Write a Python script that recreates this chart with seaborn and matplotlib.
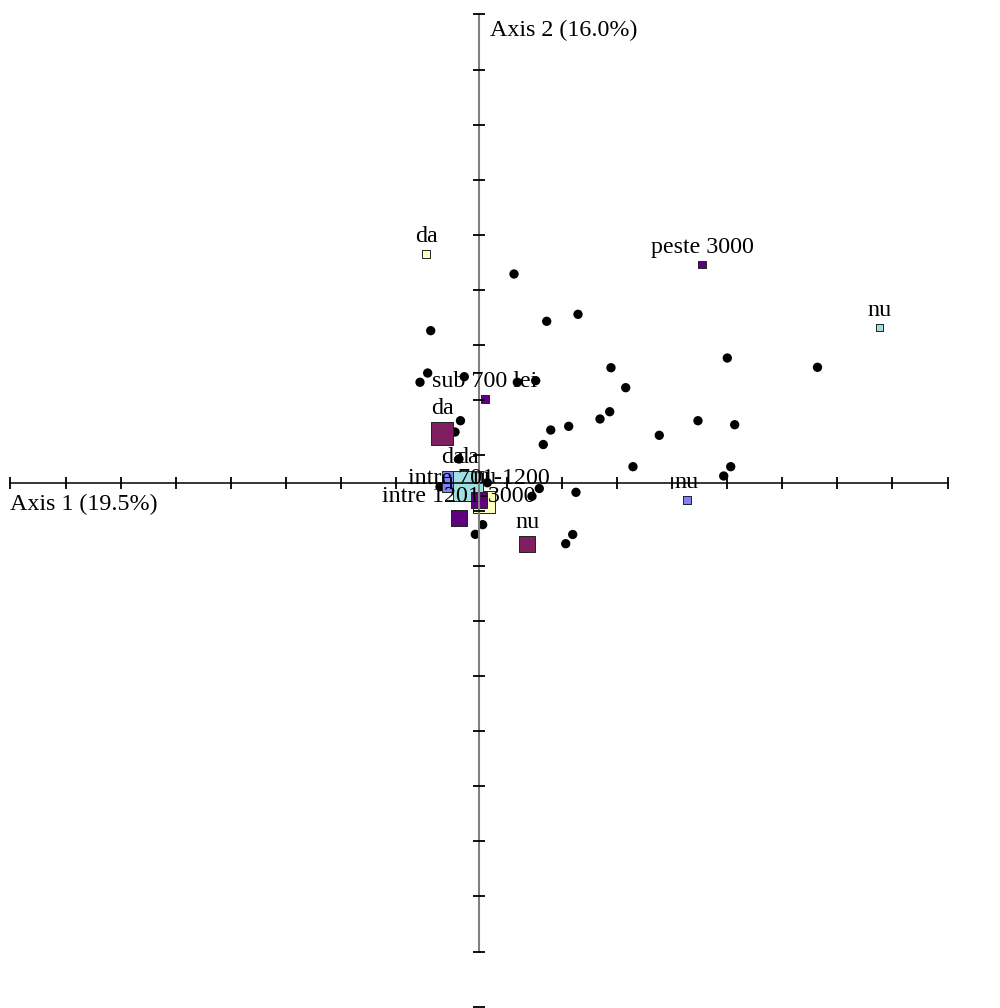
import matplotlib
matplotlib.use('Agg')
import matplotlib.pyplot as plt
import numpy as np
import pandas as pd
import seaborn as sns

# row points (black dots)
ind_x = [0.0635, 0.1228, 0.1796, -0.0876, 0.4504, 0.6140, 0.2394, 0.2661,
         -0.0931, -0.1070, -0.0267, 0.0695, 0.1028, 0.2371, 0.2195, 0.3972,
         0.4638, 0.1301, 0.1627, 0.1166, 0.3270, 0.2793, 0.4566, 0.4439,
         0.1094, 0.0961, 0.1759, 0.1700, 0.1573, -0.0336, -0.0435, -0.0363,
         -0.0707, 0.0151, 0.0067, -0.0067]
ind_y = [0.3791, 0.2933, 0.3060, 0.2763, 0.2267, 0.2099, 0.2091, 0.1729,
         0.1995, 0.1827, 0.1928, 0.1827, 0.1856, 0.1293, 0.1161, 0.1130,
         0.1057, 0.0961, 0.1028, 0.0698, 0.0865, 0.0296, 0.0296, 0.0127,
         -0.0100, -0.0241, -0.0169, -0.0934, -0.1101, 0.1130, 0.0925, 0.0435,
         -0.0067, 0.0005, -0.0756, -0.0931]

# category points (squares), in drawing order
cat_labels = ['da', 'nu', 'da', 'nu', 'da', 'nu', 'da', 'nu',
              'sub 700 lei', 'intre 701-1200', 'intre 1201-3000', 'peste 3000']
cat_var = ['V3', 'V3', 'V1', 'V1', 'V2', 'V2', 'V4', 'V4',
           'venit', 'venit', 'venit', 'venit']
cat_x = [-0.0472, 0.3773, -0.0961, 0.0091, -0.0200, 0.7268, -0.0671, 0.0871,
         0.0109, 0.0000, -0.0363, 0.4045]
cat_y = [0.0031, -0.0308, 0.4154, -0.0345, -0.0054, 0.2824, 0.0898, -0.1106,
         0.1524, -0.0308, -0.0635, 0.3960]
cat_freq = [31, 4, 4, 34, 63, 4, 34, 16, 4, 16, 16, 4]

axis1_label = 'Axis 1 (19.5%)'
axis2_label = 'Axis 2 (16.0%)'

var_colors = {'V1': '#ffffc0', 'V2': '#a0e0e0', 'V3': '#8080ff',
              'V4': '#801f60', 'venit': '#600080'}

inds = pd.DataFrame({'x': ind_x, 'y': ind_y})
cats = pd.DataFrame({'label': cat_labels, 'var': cat_var, 'x': cat_x,
                     'y': cat_y, 'freq': cat_freq})

sns.set_style('white')
plt.rcParams['font.family'] = ['Liberation Serif', 'DejaVu Serif']
plt.rcParams['text.color'] = 'black'

scale = 551.3  # pixels per unit
fig = plt.figure(figsize=(10, 10.08), dpi=100)
ax = fig.add_axes([0, 0, 1, 1])
ax.set_axis_off()
ax.set_xlim(-479 / scale, 521 / scale)
ax.set_ylim(-525 / scale, 483 / scale)

# axes through the origin
ax.plot([-0.85, 0.85], [0, 0], color='black', lw=1.1, zorder=3.5)
ax.plot([0, 0], [0.85, -0.85], color='#808080', lw=1.5, zorder=3.5)
xt = np.round(np.arange(-0.85, 0.851, 0.1), 3)
yt = np.round(np.arange(0.85, -0.951, -0.1), 3)
ax.vlines(xt, -0.01, 0.01, color='black', lw=1.3, zorder=3.5)
ax.hlines(yt, -0.011, 0.011, color='black', lw=1.3, zorder=3.5)

sns.scatterplot(data=inds, x='x', y='y', color='black', s=45,
                edgecolor='none', ax=ax, zorder=2)

smin, smax = 29, 467
sns.scatterplot(data=cats, x='x', y='y', hue='var', palette=var_colors,
                size='freq', sizes=(smin, smax), marker='s',
                edgecolor='#222222', linewidth=0.7, legend=False,
                ax=ax, zorder=3)

fmin, fmax = min(cat_freq), max(cat_freq)
for _, r in cats.iterrows():
    s = smin + (r['freq'] - fmin) / (fmax - fmin) * (smax - smin)
    ax.annotate(r['label'], (r['x'], r['y']), xytext=(0, np.sqrt(s) / 2 + 5.8),
                textcoords='offset points', ha='center', va='baseline',
                fontsize=17.3, color='black', zorder=4)

ax.text(-0.85, -27 / scale, axis1_label, ha='left', va='baseline',
        fontsize=17.3, color='black', zorder=4)
ax.text(11 / scale, 447 / scale, axis2_label, ha='left', va='baseline',
        fontsize=17.3, color='black', zorder=4)

fig.savefig('out.png', dpi=100)
